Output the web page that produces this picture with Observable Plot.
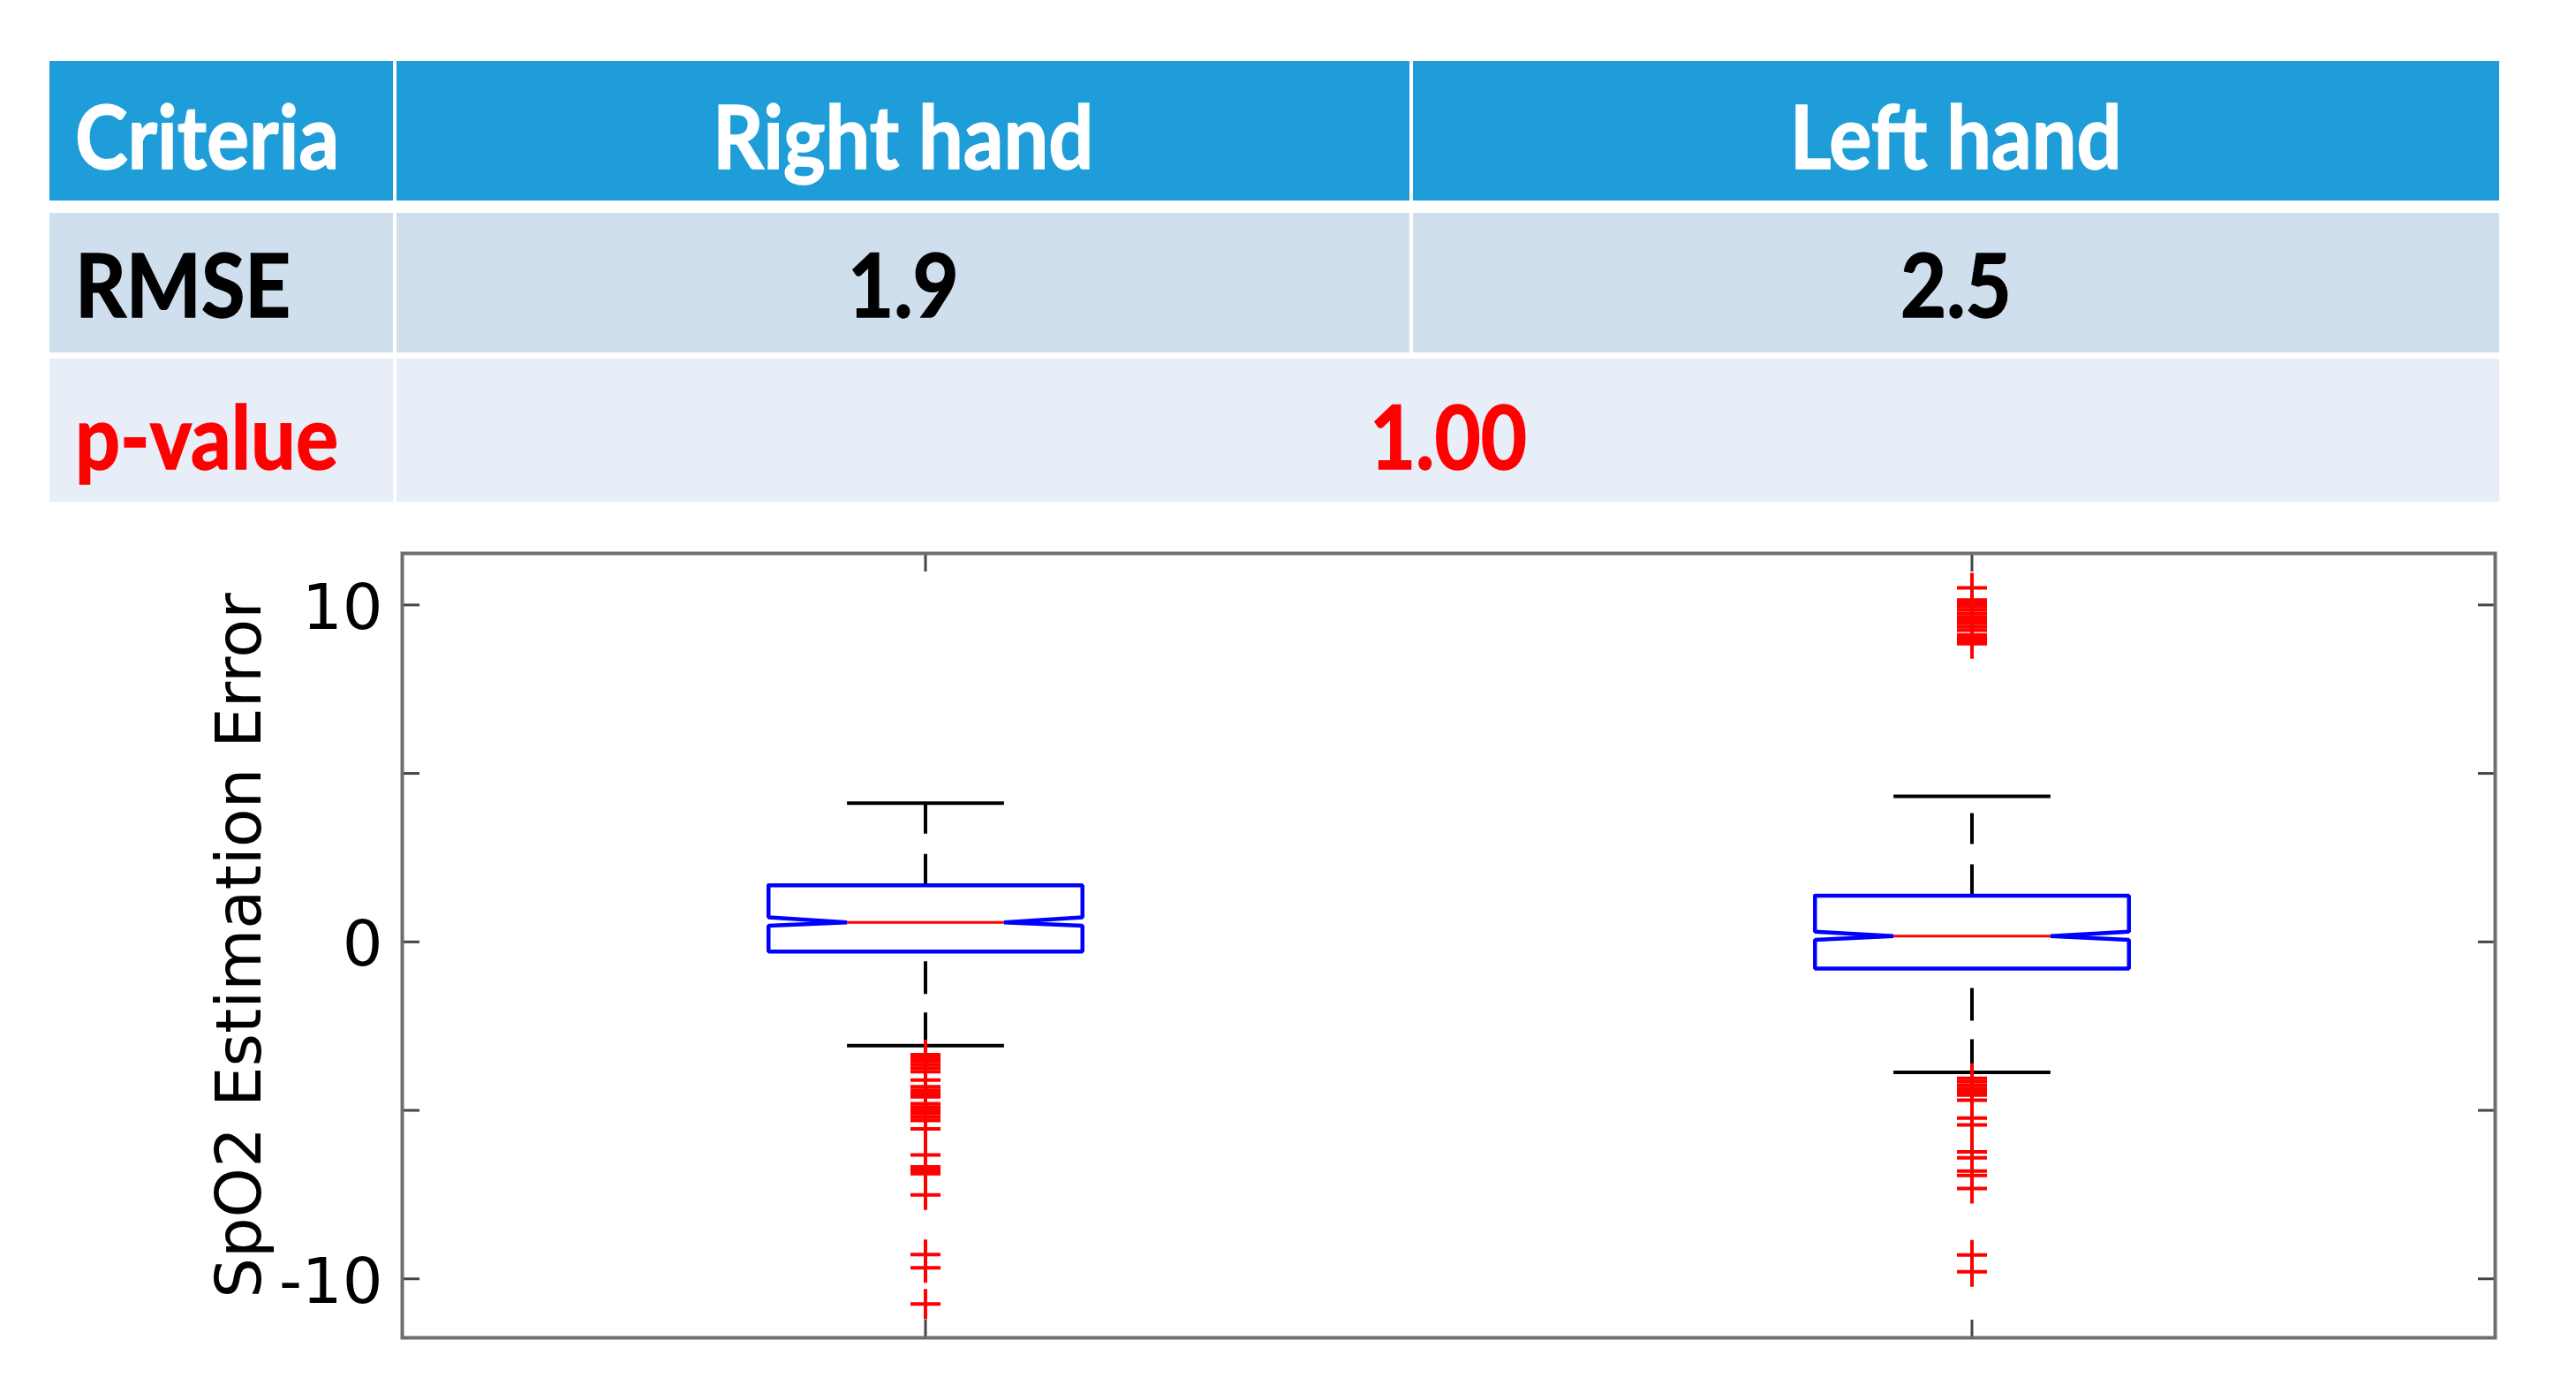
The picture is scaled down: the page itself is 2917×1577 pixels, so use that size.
<!DOCTYPE html>
<html>
<head>
<meta charset="utf-8">
<script src="https://cdn.jsdelivr.net/npm/d3@7"></script>
<script src="https://cdn.jsdelivr.net/npm/@observablehq/plot@0.6"></script>
<style>
  html, body { margin: 0; padding: 0; background: #ffffff; overflow: hidden; }
  #wrap { position: relative; width: 2917px; height: 1577px; overflow: hidden; background: #fff; }
  #table { position: absolute; left: 56px; top: 69px; width: 2774px; height: 500px;
           font-family: "Lato", "Noto Sans", sans-serif; font-weight: bold; }
  .cell { position: absolute; box-sizing: border-box; display: flex; align-items: center;
          font-size: 100px; line-height: normal; white-space: nowrap; }
  .cell span { display: inline-block; transform: scaleX(0.9); -webkit-text-stroke: 1.5px currentColor; }
  #chart { position: absolute; left: 0; top: 600px; }
</style>
</head>
<body>
<div id="wrap"><div id="table"></div><div id="chart"></div></div>
<script>
// ---------- table data ----------
const headers = ["Criteria", "Right hand", "Left hand"];
const rowLabels = ["RMSE", "p-value"];
const rmseValues = ["1.9", "2.5"];
const pValue = "1.00";

// ---------- box plot data ----------
const groups = ["Right hand", "Left hand"];
const positions = [1, 2];
const upperWhisker = [4.12, 4.32];
const q3 = [1.68, 1.37];
const notchHigh = [0.73, 0.30];
const median = [0.58, 0.17];
const notchLow = [0.48, 0.06];
const q1 = [-0.29, -0.79];
const lowerWhisker = [-3.08, -3.87];
const outliersRight = [-3.35, -3.45, -3.55, -3.65, -3.75, -3.85, -4.10, -4.30, -4.40, -4.50, -4.60,
  -4.80, -4.90, -5.00, -5.10, -5.20, -5.30, -5.55, -6.32, -6.68, -6.78, -6.88, -7.51, -9.28, -9.67, -10.75];
const outliersLeft = [10.51, 10.15, 10.05, 9.95, 9.85, 9.75, 9.65, 9.55, 9.45, 9.35, 9.25, 9.11, 9.05, 8.95, 8.85,
  -4.05, -4.15, -4.25, -4.35, -4.45, -4.55, -4.70, -5.23, -5.43, -6.23, -6.41, -6.80, -6.93, -7.32, -9.29, -9.79];
const yTicks = [-10, -5, 0, 5, 10];
const yTickLabels = [-10, 0, 10];
const yLabel = "SpO2 Estimation Error";

// ---------- table (HTML) ----------
const table = document.getElementById("table");
const colEdges = [[0, 389], [393, 1540], [1544, 2774]];
const rows = [
  {top: 0, h: 158, bg: "#1f9dd9", pad: 8},
  {top: 172, h: 158, bg: "#cfdfee", pad: 0},
  {top: 337, h: 162, bg: "#e8eef8", pad: 10}
];
function addCell(row, x0, x1, text, color, align) {
  const d = document.createElement("div");
  d.className = "cell";
  d.style.left = x0 + "px";
  d.style.width = (x1 - x0) + "px";
  d.style.top = row.top + "px";
  d.style.height = row.h + "px";
  d.style.background = row.bg;
  d.style.color = color;
  d.style.paddingTop = row.pad + "px";
  d.style.justifyContent = align === "left" ? "flex-start" : "center";
  if (align === "left") d.style.paddingLeft = "29px";
  const s = document.createElement("span");
  s.textContent = text;
  s.style.transformOrigin = align === "left" ? "left center" : "center center";
  d.appendChild(s);
  table.appendChild(d);
}
headers.forEach((h, i) => addCell(rows[0], colEdges[i][0], colEdges[i][1], h, "#ffffff", i === 0 ? "left" : "center"));
addCell(rows[1], colEdges[0][0], colEdges[0][1], rowLabels[0], "#000000", "left");
rmseValues.forEach((v, i) => addCell(rows[1], colEdges[i + 1][0], colEdges[i + 1][1], v, "#000000", "center"));
addCell(rows[2], colEdges[0][0], colEdges[0][1], rowLabels[1], "#ff0000", "left");
addCell(rows[2], colEdges[1][0], colEdges[2][1], pValue, "#ff0000", "center");

// ---------- chart ----------
const boxHalf = 0.15, notchHalf = 0.075;
const stats = groups.map((g, i) => ({
  group: g, pos: positions[i], upper: upperWhisker[i], q3: q3[i], nHi: notchHigh[i],
  median: median[i], nLo: notchLow[i], q1: q1[i], lower: lowerWhisker[i]
}));
const boxPts = stats.flatMap(s => {
  const c = s.pos;
  return [
    [c - boxHalf, s.q3], [c + boxHalf, s.q3], [c + boxHalf, s.nHi], [c + notchHalf, s.median],
    [c + boxHalf, s.nLo], [c + boxHalf, s.q1], [c - boxHalf, s.q1], [c - boxHalf, s.nLo],
    [c - notchHalf, s.median], [c - boxHalf, s.nHi], [c - boxHalf, s.q3]
  ].map(([x, y]) => ({group: s.group, x, y}));
});
const outliers = [
  ...outliersRight.map(v => ({pos: positions[0], value: v})),
  ...outliersLeft.map(v => ({pos: positions[1], value: v}))
];

const chart = Plot.plot({
  width: 2917,
  height: 977,
  marginTop: 26,
  marginBottom: 63,
  marginLeft: 455,
  marginRight: 92,
  style: {fontFamily: "DejaVu Sans, sans-serif", background: "transparent", color: "black"},
  x: {domain: [0.5, 2.5]},
  y: {domain: [-11.75, 11.53]},
  marks: [
    Plot.axisY(yTickLabels, {anchor: "left", tickSize: 0, tickPadding: 22, tickFormat: d => String(d),
      fontSize: 72, dy: 4, label: null, fill: "black"}),
    Plot.axisY(yTicks, {anchor: "left", tickSize: -20, fill: "none", label: null, stroke: "#444", strokeWidth: 3}),
    Plot.axisY(yTicks, {anchor: "right", tickSize: -20, fill: "none", label: null, stroke: "#444", strokeWidth: 3}),
    Plot.axisX(positions, {anchor: "bottom", tickSize: -20, fill: "none", label: null, stroke: "#444", strokeWidth: 3}),
    Plot.axisX(positions, {anchor: "top", tickSize: -20, fill: "none", label: null, stroke: "#444", strokeWidth: 3}),
    Plot.text([yLabel], {frameAnchor: "left", textAnchor: "middle", rotate: -90, dx: -184, fontSize: 72, fill: "black"}),
    // whiskers (dashed)
    Plot.ruleX(stats, {x: "pos", y1: "q3", y2: "upper", stroke: "black", strokeWidth: 4, strokeDasharray: "35,23"}),
    Plot.ruleX(stats, {x: "pos", y1: "lower", y2: "q1", stroke: "black", strokeWidth: 4, strokeDasharray: "37,21"}),
    // whisker caps
    Plot.link(stats, {x1: d => d.pos - notchHalf, x2: d => d.pos + notchHalf, y1: "upper", y2: "upper", stroke: "black", strokeWidth: 4}),
    Plot.link(stats, {x1: d => d.pos - notchHalf, x2: d => d.pos + notchHalf, y1: "lower", y2: "lower", stroke: "black", strokeWidth: 4}),
    // notched boxes
    Plot.line(boxPts, {x: "x", y: "y", z: "group", stroke: "#0000ff", strokeWidth: 4.5, strokeLinejoin: "miter"}),
    // medians
    Plot.link(stats, {x1: d => d.pos - notchHalf, x2: d => d.pos + notchHalf, y1: "median", y2: "median", stroke: "#ff0000", strokeWidth: 3}),
    // outliers
    Plot.dot(outliers, {x: "pos", y: "value", symbol: "plus", r: 11, stroke: "#ff0000", fill: "none", strokeWidth: 4}),
    Plot.frame({stroke: "#6e6e6e", strokeWidth: 4})
  ]
});
document.getElementById("chart").appendChild(chart);
</script>
</body>
</html>
